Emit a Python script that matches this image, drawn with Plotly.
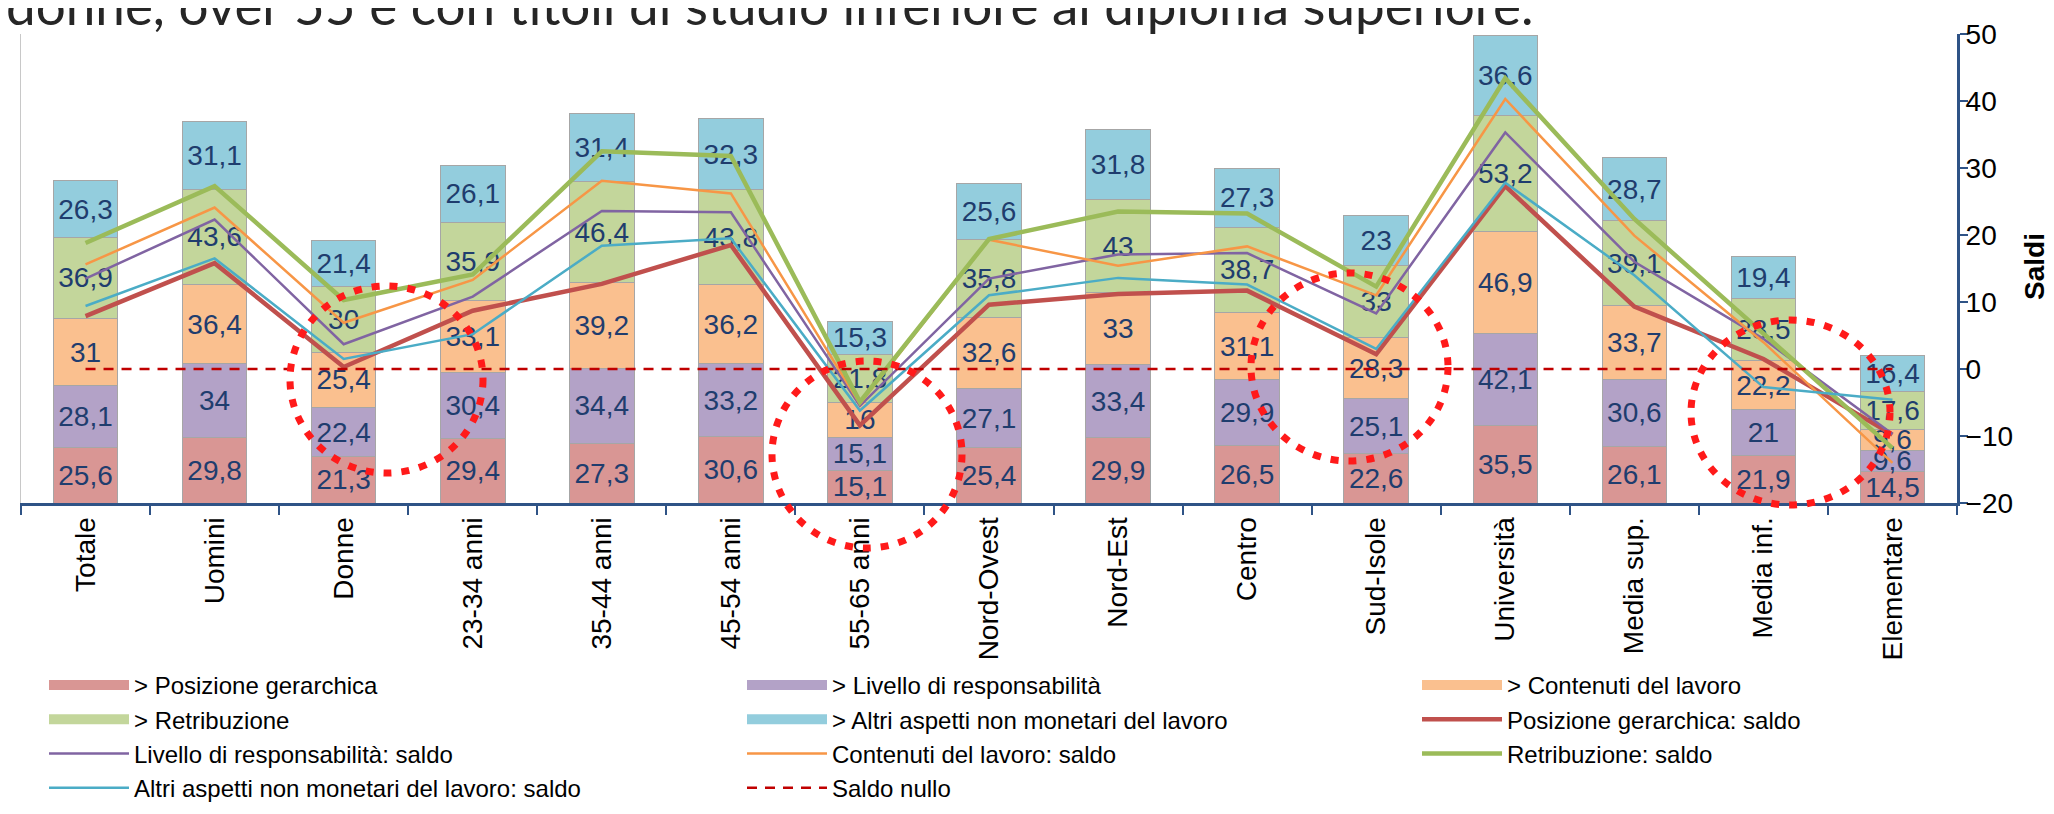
import plotly.graph_objects as go

# categorie e dati
categorie = ['Totale', 'Uomini', 'Donne', '23-34 anni', '35-44 anni', '45-54 anni', '55-65 anni',
             'Nord-Ovest', 'Nord-Est', 'Centro', 'Sud-Isole', 'Università', 'Media sup.',
             'Media inf.', 'Elementare']

# quote (%) - barre impilate
posizione = [25.6, 29.8, 21.3, 29.4, 27.3, 30.6, 15.1, 25.4, 29.9, 26.5, 22.6, 35.5, 26.1, 21.9, 14.5]
livello = [28.1, 34, 22.4, 30.4, 34.4, 33.2, 15.1, 27.1, 33.4, 29.9, 25.1, 42.1, 30.6, 21, 9.6]
contenuti = [31, 36.4, 25.4, 33.1, 39.2, 36.2, 16, 32.6, 33, 31.1, 28.3, 46.9, 33.7, 22.2, 9.6]
retribuzione = [36.9, 43.6, 30, 35.9, 46.4, 43.8, 21.8, 35.8, 43, 38.7, 33, 53.2, 39.1, 28.5, 17.6]
altri = [26.3, 31.1, 21.4, 26.1, 31.4, 32.3, 15.3, 25.6, 31.8, 27.3, 23, 36.6, 28.7, 19.4, 16.4]

# saldi - linee (asse destro)
saldo_posizione = [7.9, 15.8, 0.3, 8.7, 12.7, 18.5, -8.4, 9.6, 11.2, 11.7, 2.2, 27.3, 9.3, 1.5, -9.8]
saldo_livello = [13.5, 22.3, 3.7, 10.8, 23.6, 23.4, -5.5, 13.5, 17.1, 17.3, 8.3, 35.3, 16.0, 4.5, -9.7]
saldo_contenuti = [15.6, 24.1, 6.9, 13.3, 28.1, 26.2, -5.2, 19.3, 15.4, 18.3, 11.0, 40.3, 19.9, 4.0, -14.0]
saldo_retribuzione = [18.8, 27.3, 10.3, 14.1, 32.5, 31.8, -4.9, 19.4, 23.5, 23.2, 12.3, 43.4, 22.4, 5.4, -11.8]
saldo_altri = [9.4, 16.5, 1.5, 5.2, 18.4, 19.5, -6.2, 11.0, 13.6, 12.6, 3.0, 27.8, 14.0, -2.7, -4.6]
saldo_nullo = [0] * len(categorie)

W, H = 2054, 814
L, R, T, B = 13, 105, 26, 319

def lab(v):
    return f"{v:g}".replace('.', ',')

fig = go.Figure()

# nome, valori, colore, legenda
barre = [('> Posizione gerarchica', posizione, '#d99694', 'legend'),
         ('> Livello di responsabilità', livello, '#b3a2c7', 'legend2'),
         ('> Contenuti del lavoro', contenuti, '#fac08f', 'legend3'),
         ('> Retribuzione', retribuzione, '#c3d69b', 'legend'),
         ('> Altri aspetti non monetari del lavoro', altri, '#93cddd', 'legend2')]

for nome, vals, col, lg in barre:
    fig.add_trace(go.Bar(x=categorie, y=vals, name=nome, marker_color=col,
                         marker_line=dict(color='#a6a6a6', width=1),
                         text=[lab(v) for v in vals], textposition='inside',
                         insidetextanchor='middle', constraintext='none',
                         textfont=dict(color='#1f3d6e', size=28, family='Liberation Sans, Arial'),
                         showlegend=False))

# voci di legenda per le barre (rettangoli larghi)
for nome, vals, col, lg in barre:
    fig.add_trace(go.Scatter(x=[None], y=[None], mode='lines', name=nome, legend=lg,
                             line=dict(color=col, width=13)))

linee = [('Posizione gerarchica: saldo', saldo_posizione, '#c0504d', 4.5, 'legend3'),
         ('Livello di responsabilità: saldo', saldo_livello, '#8064a2', 2.5, 'legend'),
         ('Contenuti del lavoro: saldo', saldo_contenuti, '#f79646', 2.5, 'legend2'),
         ('Retribuzione: saldo', saldo_retribuzione, '#9bbb59', 4.5, 'legend3'),
         ('Altri aspetti non monetari del lavoro: saldo', saldo_altri, '#4bacc6', 2.5, 'legend')]

for nome, vals, col, w, lg in linee:
    fig.add_trace(go.Scatter(x=categorie, y=vals, name=nome, mode='lines', yaxis='y2', legend=lg,
                             line=dict(color=col, width=w)))

fig.add_trace(go.Scatter(x=categorie, y=saldo_nullo, name='Saldo nullo', mode='lines', yaxis='y2',
                         legend='legend2', line=dict(color='#c00000', width=2.5, dash='10px,8px')))

# cerchi tratteggiati (pixel della figura)
cerchi = [(282, 278, 475, 465), (764, 353, 954, 540), (1243, 265, 1440, 453), (1683, 312, 1882, 497)]
pw, ph = W - L - R, H - T - B
for x0, y0, x1, y1 in cerchi:
    fig.add_shape(type='circle', xref='paper', yref='paper',
                  x0=(x0 - L) / pw, x1=(x1 - L) / pw, y0=(H - B - y0) / ph, y1=(H - B - y1) / ph,
                  line=dict(color='#ff1a1a', width=7, dash='8px,10px'))

fig.add_annotation(text='donne, over 55 e con titoli di studio inferiore al diploma superiore.',
                   xref='paper', yref='paper', x=(-4 - L) / pw, y=(H - B - 30) / ph,
                   xanchor='left', yanchor='bottom', showarrow=False,
                   font=dict(family='Lato', size=53, color='#262626'))

# titolo asse destro
fig.add_annotation(text='<b>Saldi</b>', xref='paper', yref='paper',
                   x=(2026 - L) / pw, y=(H - B - 259) / ph, textangle=-90,
                   xanchor='center', yanchor='middle', showarrow=False,
                   font=dict(size=28, color='#000000'))

leg = dict(orientation='v', xref='container', yref='container', y=1 - 655 / H,
           xanchor='left', yanchor='top', itemwidth=80, font=dict(size=24),
           traceorder='normal', bgcolor='rgba(0,0,0,0)')

fig.update_layout(
    width=W, height=H, barmode='stack', bargap=0.5,
    margin=dict(l=L, r=R, t=T, b=B, autoexpand=False),
    plot_bgcolor='white', paper_bgcolor='white',
    font=dict(family='Liberation Sans, Arial', color='#000000'),
    xaxis=dict(type='category', showline=True, linecolor='#2f5386', linewidth=3,
               ticks='outside', tickson='boundaries', ticklen=9, tickcolor='#2f5386', tickwidth=2,
               tickangle=-90, tickfont=dict(size=28)),
    yaxis=dict(range=[0, 215], showline=True, linecolor='#c8c8c8', linewidth=1,
               showgrid=False, zeroline=False, showticklabels=False, ticks=''),
    yaxis2=dict(range=[-20, 50], dtick=10, overlaying='y', side='right', showgrid=False,
                zeroline=False, showline=True, linecolor='#2f5386', linewidth=3,
                ticks='outside', ticklen=8, tickcolor='#2f5386', tickwidth=2,
                ticklabelstandoff=-8, tickfont=dict(size=28)),
    legend=dict(leg, x=36 / W),
    legend2=dict(leg, x=734 / W),
    legend3=dict(leg, x=1409 / W),
    showlegend=True,
    uniformtext=dict(minsize=28, mode='show'),
)

fig.write_html('out.html')
